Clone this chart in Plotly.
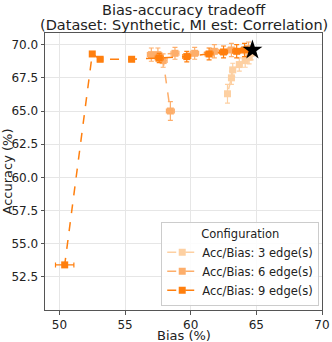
import plotly.graph_objects as go

# baseline (no edges removed)
base_bias = [64.7]
base_acc = [69.6]

# Acc/Bias: 3 edge(s)
bias_3 = [64.6, 64.45, 64.15, 63.7, 63.2, 63.1, 62.8]
acc_3 = [69.35, 69.05, 68.8, 68.5, 68.1, 67.5, 66.3]
bias_err_3 = [0.2, 0.2, 0.2, 0.2, 0.2, 0.2, 0.2]
acc_err_3 = [0.5, 0.5, 0.5, 0.5, 0.5, 0.5, 0.7]

# Acc/Bias: 6 edge(s)
bias_6 = [64.4, 63.1, 61.8, 60.3, 58.8, 57.0, 57.5, 57.9, 58.45]
acc_6 = [69.7, 69.6, 69.5, 69.35, 69.35, 69.25, 69.25, 68.8, 65.0]
bias_err_6 = [0.3, 0.3, 0.3, 0.3, 0.3, 0.3, 0.3, 0.3, 0.3]
acc_err_6 = [0.5, 0.5, 0.5, 0.45, 0.45, 0.5, 0.5, 0.5, 0.7]

# Acc/Bias: 9 edge(s)
bias_9 = [64.1, 63.5, 62.5, 61.4, 59.7, 57.6, 55.5, 53.1, 52.5, 50.4]
acc_9 = [69.6, 69.5, 69.45, 69.3, 69.1, 69.0, 68.9, 68.9, 69.3, 53.4]
bias_err_9 = [0.3, 0.3, 0.3, 0.3, 0.3, 0.3, 0.2, 0.2, 0.1, 0.7]
acc_err_9 = [0.5, 0.5, 0.45, 0.45, 0.4, 0.35, 0.1, 0.1, 0.1, 0.05]

series = [
    ("Acc/Bias: 3 edge(s)", bias_3, acc_3, bias_err_3, acc_err_3, "#fdd0a2"),
    ("Acc/Bias: 6 edge(s)", bias_6, acc_6, bias_err_6, acc_err_6, "#fdae6b"),
    ("Acc/Bias: 9 edge(s)", bias_9, acc_9, bias_err_9, acc_err_9, "#ff7f0e"),
]

fig = go.Figure()
for name, xs, ys, xe, ye, col in series:
    fig.add_trace(go.Scatter(
        x=xs, y=ys, name=name, mode="lines+markers",
        line=dict(color=col, width=1.5, dash="dash"),
        marker=dict(symbol="square", size=7, color=col),
        error_x=dict(type="data", array=xe, color=col, thickness=1.2, width=2.5),
        error_y=dict(type="data", array=ye, color=col, thickness=1.2, width=2.5),
    ))

fig.add_trace(go.Scatter(
    x=base_bias, y=base_acc, mode="markers", showlegend=False,
    marker=dict(symbol="star", size=15, color="black"),
))

axis_common = dict(
    showgrid=True, gridcolor="#e6e6e6", gridwidth=1,
    showline=True, linecolor="#555555", linewidth=1, mirror=True,
    ticks="outside", ticklen=3.5, tickcolor="#555555",
    zeroline=False, tickfont=dict(size=12, color="#222222"),
    automargin=False,
)

fig.update_layout(
    width=332, height=342,
    margin=dict(l=45, r=10, t=33, b=32),
    paper_bgcolor="white", plot_bgcolor="white",
    font=dict(family="DejaVu Sans", color="#222222"),
    xaxis=dict(
        range=[48.9, 70], tickvals=[50, 55, 60, 65, 70],
        **axis_common,
    ),
    yaxis=dict(
        range=[50.0, 70.88], tickvals=[52.5, 55, 57.5, 60, 62.5, 65, 67.5, 70],
        tickformat=".1f",
        title=dict(text="Accuracy (%)", font=dict(size=13), standoff=3),
        **axis_common,
    ),
    legend=dict(
        x=0.99, xanchor="right", y=0.015, yanchor="bottom",
        bgcolor="rgba(255,255,255,0.85)", bordercolor="#cccccc", borderwidth=1,
        font=dict(size=11.5),
        title=dict(text="Configuration", side="top center", font=dict(size=11.5)),
        tracegroupgap=0,
    ),
    annotations=[
        dict(text="Bias-accuracy tradeoff", xref="paper", yref="paper",
             x=0.5, y=1 + 23 / 277, xanchor="center", yanchor="middle",
             showarrow=False, font=dict(size=14.5)),
        dict(text="(Dataset: Synthetic, MI est: Correlation)", xref="paper", yref="paper",
             x=0.5, y=1 + 8 / 277, xanchor="center", yanchor="middle",
             showarrow=False, font=dict(size=14.5)),
        dict(text="Bias (%)", xref="paper", yref="paper",
             x=0.5, y=-25 / 277, xanchor="center", yanchor="middle",
             showarrow=False, font=dict(size=13)),
    ],
)

# the page body has a default 8px margin; drop it so the figure sits at the corner
fig.write_html("out.html", config={"displayModeBar": False},
               post_script="document.body.style.margin='0px';")
